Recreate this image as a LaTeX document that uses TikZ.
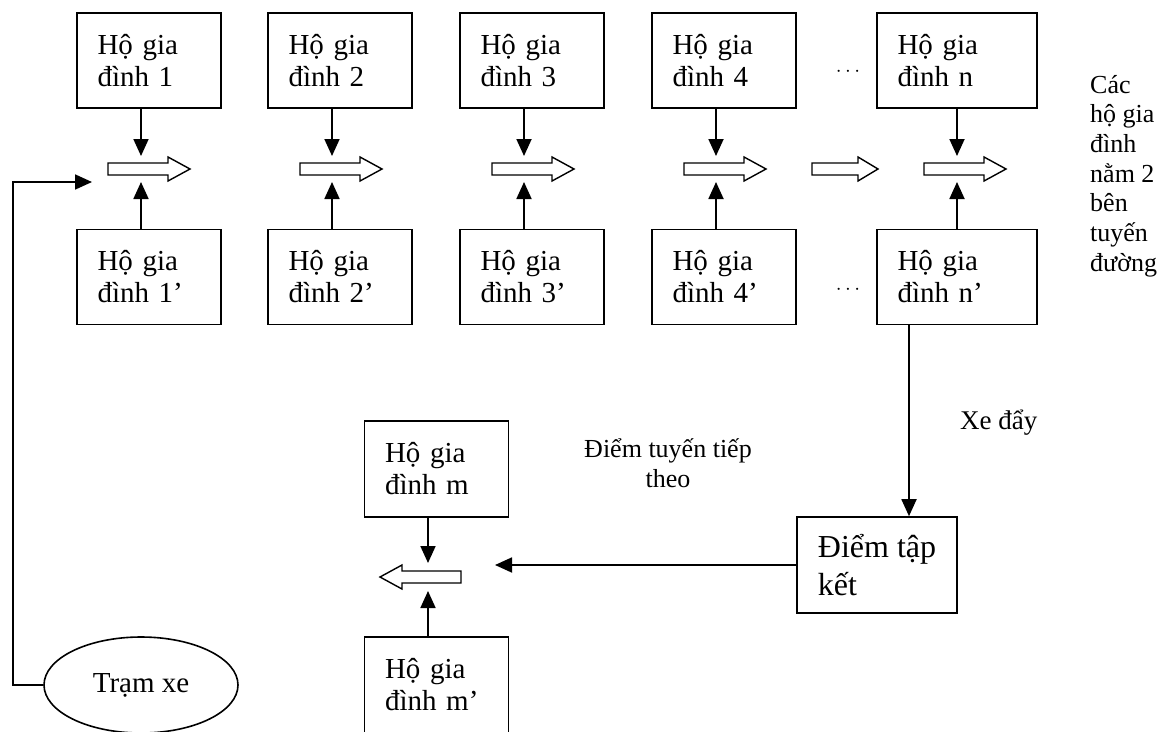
\documentclass[tikz,border=0pt]{standalone}
\usepackage{fontspec}
\setmainfont{Liberation Serif}
\usetikzlibrary{arrows.meta,shapes.geometric}
\newcommand\hollowR[4]{% left x, centre y, shaft length, head length
  \draw[hollow] (#1,#2-6) -- ++(#3,0) -- ++(0,-6) -- ++(#4,12) -- ++(-#4,12) -- ++(0,-6) -- ++(-#3,0) -- cycle;}
\begin{document}
\begin{tikzpicture}[x=1pt,y=-1pt,
  box/.style={draw,line width=1.6pt,minimum height=95pt,inner xsep=20.5pt,inner ysep=0pt,
    align=left,font=\fontsize{29}{32}\selectfont},
  smallbox/.style={box,text width=103pt,minimum width=144pt},
  widebox/.style={box,text width=119pt,minimum width=160pt},
  conn/.style={line width=1.8pt,-{Triangle[length=17pt,width=15pt]}},
  hollow/.style={draw,line width=1.4pt,fill=white},
  lbl/.style={inner sep=0pt}]
\useasboundingbox (0,0) rectangle (1170,731);

% top and bottom rows of households
\foreach \i/\L in {1/77,2/268,3/460,4/652}{
  \node[smallbox] (t\i) at (\L+72,60.5) {Hộ gia\\đình \i};
  \node[smallbox] (b\i) at (\L+72,277) {Hộ gia\\đình \i’};
  \coordinate (dt\i) at (\L+64,156);
  \coordinate (ub\i) at (\L+64,182);
  \draw[conn] (t\i.south -| dt\i) -- (dt\i);
  \draw[conn] (b\i.north -| ub\i) -- (ub\i);
}
\node[widebox] (tn) at (957,60.5) {Hộ gia\\đình n};
\node[widebox] (bn) at (957,277) {Hộ gia\\đình n’};
\coordinate (dtn) at (957,156);
\coordinate (ubn) at (957,182);
\draw[conn] (tn.south) -- (dtn);
\draw[conn] (bn.north) -- (ubn);

% hollow arrows along the route
\hollowR{108}{169}{60}{22}
\hollowR{300}{169}{60}{22}
\hollowR{492}{169}{60}{22}
\hollowR{684}{169}{60}{22}
\hollowR{812}{169}{46}{20}
\hollowR{924}{169}{60}{22}

% ellipsis dots
\node[lbl,font=\fontsize{22}{24}\selectfont] (dots1) at (848,72) {$\cdots$};
\node[lbl,font=\fontsize{22}{24}\selectfont] (dots2) at (848,290) {$\cdots$};

% side label
\node[lbl,anchor=west,align=left,font=\fontsize{26}{29.7}\selectfont] (cac) at (1090,176)
  {Các\\hộ gia\\đình\\nằm 2\\bên\\tuyến\\đường};

% collection point
\node[draw,line width=1.6pt,minimum width=160pt,minimum height=96pt,inner sep=0pt,
  align=left,font=\fontsize{32}{38}\selectfont] (dtk) at (877,565) {Điểm tập\\kết};
\coordinate (xa) at (909,0);
\draw[conn] (bn.south -| xa) -- (dtk.north -| xa);
\node[lbl,anchor=west,font=\fontsize{27}{30}\selectfont] (xe) at (960,423) {Xe đẩy};

% next route point
\node[lbl,align=center,font=\fontsize{26}{30}\selectfont] (next) at (668,463) {Điểm tuyến tiếp\\theo};
\node[smallbox,minimum height=96pt] (tm) at (436.5,469) {Hộ gia\\đình m};
\node[smallbox,minimum height=96pt] (bm) at (436.5,685) {Hộ gia\\đình m’};
\coordinate (dtm) at (428,563);
\coordinate (ubm) at (428,591);
\draw[conn] (tm.south -| dtm) -- (dtm);
\draw[conn] (bm.north -| ubm) -- (ubm);
\draw[hollow] (461,571) -- (402,571) -- (402,565) -- (380,577) -- (402,589) -- (402,583) -- (461,583) -- cycle;
\coordinate (ml) at (495,565);
\draw[conn] (dtk.west) -- (ml);

% depot and return path
\node[draw,ellipse,line width=1.6pt,minimum width=194pt,minimum height=96pt,inner sep=0pt,
  font=\fontsize{29}{32}\selectfont] (tram) at (141,685) {Trạm xe};
\coordinate (fbc) at (13,182);
\coordinate (fb) at (92,182);
\draw[conn] (tram.west) -| (fbc) -- (fb);
\end{tikzpicture}
\end{document}
